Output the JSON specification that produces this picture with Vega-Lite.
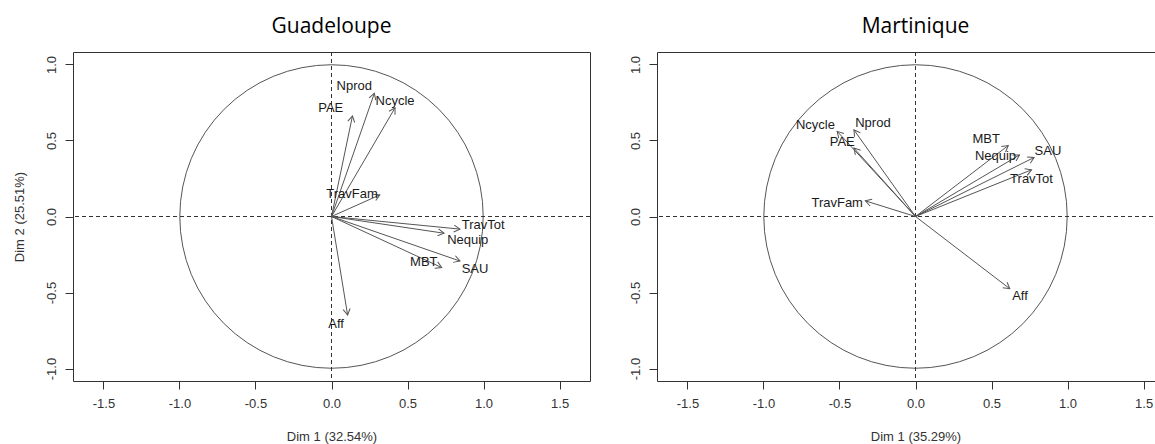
{
  "$schema": "https://vega.github.io/schema/vega-lite/v6.json",
  "background": "white",
  "padding": {"left": 12, "top": 15, "right": 0, "bottom": 0},
  "bounds": "flush",
  "spacing": 67,
  "datasets": {
    "guad": [
      {"var": "PAE", "x": 0.138, "y": 0.662, "lx": -0.005, "ly": 0.712},
      {"var": "Nprod", "x": 0.282, "y": 0.811, "lx": 0.15, "ly": 0.857},
      {"var": "Ncycle", "x": 0.418, "y": 0.715, "lx": 0.418, "ly": 0.758},
      {"var": "TravFam", "x": 0.318, "y": 0.142, "lx": 0.135, "ly": 0.148},
      {"var": "TravTot", "x": 0.845, "y": -0.083, "lx": 0.998, "ly": -0.055},
      {"var": "Nequip", "x": 0.74, "y": -0.11, "lx": 0.896, "ly": -0.153},
      {"var": "SAU", "x": 0.845, "y": -0.293, "lx": 0.944, "ly": -0.344},
      {"var": "MBT", "x": 0.725, "y": -0.336, "lx": 0.607, "ly": -0.296},
      {"var": "Aff", "x": 0.106, "y": -0.648, "lx": 0.03, "ly": -0.705}
    ],
    "mart": [
      {"var": "Ncycle", "x": -0.515, "y": 0.56, "lx": -0.658, "ly": 0.603},
      {"var": "Nprod", "x": -0.405, "y": 0.57, "lx": -0.28, "ly": 0.614},
      {"var": "PAE", "x": -0.405, "y": 0.45, "lx": -0.482, "ly": 0.487},
      {"var": "TravFam", "x": -0.33, "y": 0.103, "lx": -0.515, "ly": 0.092},
      {"var": "MBT", "x": 0.61, "y": 0.467, "lx": 0.465, "ly": 0.509},
      {"var": "Nequip", "x": 0.684, "y": 0.405, "lx": 0.526, "ly": 0.395},
      {"var": "SAU", "x": 0.78, "y": 0.388, "lx": 0.871, "ly": 0.428},
      {"var": "TravTot", "x": 0.763, "y": 0.307, "lx": 0.763, "ly": 0.247},
      {"var": "Aff", "x": 0.62, "y": -0.475, "lx": 0.687, "ly": -0.526}
    ]
  },
  "hconcat": [
    {
      "title": {"text": "Guadeloupe"},
      "width": 517,
      "height": 329,
      "layer": [
        {
          "data": {"values": [{}]},
          "mark": {"type": "point", "shape": "circle", "size": 92050, "filled": false, "stroke": "#555", "strokeWidth": 1, "opacity": 1},
          "encoding": {
            "x": {"datum": 0, "type": "quantitative", "title": "Dim 1 (32.54%)", "scale": {"domain": [-1.7, 1.7], "nice": false, "zero": false}, "axis": {"values": [-1.5, -1, -0.5, 0, 0.5, 1, 1.5]}},
            "y": {"datum": 0, "type": "quantitative", "title": "Dim 2 (25.51%)", "scale": {"domain": [-1.082, 1.082], "nice": false, "zero": false}, "axis": {"values": [-1, -0.5, 0, 0.5, 1]}}
          }
        },
        {
          "data": {"values": [{}]},
          "mark": {"type": "rule", "strokeDash": [4, 3], "color": "#333", "strokeWidth": 1},
          "encoding": {"x": {"datum": 0, "type": "quantitative", "title": "Dim 1 (32.54%)", "scale": {"domain": [-1.7, 1.7], "nice": false, "zero": false}, "axis": {"values": [-1.5, -1, -0.5, 0, 0.5, 1, 1.5]}}}
        },
        {
          "data": {"values": [{}]},
          "mark": {"type": "rule", "strokeDash": [4, 3], "color": "#333", "strokeWidth": 1},
          "encoding": {"y": {"datum": 0, "type": "quantitative", "title": "Dim 2 (25.51%)", "scale": {"domain": [-1.082, 1.082], "nice": false, "zero": false}, "axis": {"values": [-1, -0.5, 0, 0.5, 1]}}}
        },
        {
          "data": {"name": "guad"},
          "mark": {"type": "rule", "color": "#555", "strokeWidth": 1},
          "encoding": {
            "x": {"field": "x", "type": "quantitative", "title": "Dim 1 (32.54%)", "scale": {"domain": [-1.7, 1.7], "nice": false, "zero": false}, "axis": {"values": [-1.5, -1, -0.5, 0, 0.5, 1, 1.5]}},
            "y": {"field": "y", "type": "quantitative", "title": "Dim 2 (25.51%)", "scale": {"domain": [-1.082, 1.082], "nice": false, "zero": false}, "axis": {"values": [-1, -0.5, 0, 0.5, 1]}},
            "x2": {"datum": 0},
            "y2": {"datum": 0}
          }
        },
        {
          "data": {"name": "guad"},
          "transform": [{"calculate": "atan2(datum.x, datum.y) * 180 / PI", "as": "ang"}],
          "mark": {"type": "point", "shape": "M-0.5,0.866L0,0L0.5,0.866", "size": 196, "filled": false, "stroke": "#555", "strokeWidth": 1, "opacity": 1},
          "encoding": {
            "x": {"field": "x", "type": "quantitative", "title": "Dim 1 (32.54%)", "scale": {"domain": [-1.7, 1.7], "nice": false, "zero": false}, "axis": {"values": [-1.5, -1, -0.5, 0, 0.5, 1, 1.5]}},
            "y": {"field": "y", "type": "quantitative", "title": "Dim 2 (25.51%)", "scale": {"domain": [-1.082, 1.082], "nice": false, "zero": false}, "axis": {"values": [-1, -0.5, 0, 0.5, 1]}},
            "angle": {"field": "ang", "type": "quantitative", "scale": null}
          }
        },
        {
          "data": {"name": "guad"},
          "mark": {"type": "text", "font": "Liberation Sans", "fontSize": 13, "color": "#1a1a1a", "baseline": "middle", "align": "center"},
          "encoding": {
            "x": {"field": "lx", "type": "quantitative", "title": "Dim 1 (32.54%)", "scale": {"domain": [-1.7, 1.7], "nice": false, "zero": false}, "axis": {"values": [-1.5, -1, -0.5, 0, 0.5, 1, 1.5]}},
            "y": {"field": "ly", "type": "quantitative", "title": "Dim 2 (25.51%)", "scale": {"domain": [-1.082, 1.082], "nice": false, "zero": false}, "axis": {"values": [-1, -0.5, 0, 0.5, 1]}},
            "text": {"field": "var", "type": "nominal"}
          }
        }
      ]
    },
    {
      "title": {"text": "Martinique"},
      "width": 517,
      "height": 329,
      "layer": [
        {
          "data": {"values": [{}]},
          "mark": {"type": "point", "shape": "circle", "size": 92050, "filled": false, "stroke": "#555", "strokeWidth": 1, "opacity": 1},
          "encoding": {
            "x": {"datum": 0, "type": "quantitative", "title": "Dim 1 (35.29%)", "scale": {"domain": [-1.7, 1.7], "nice": false, "zero": false}, "axis": {"values": [-1.5, -1, -0.5, 0, 0.5, 1, 1.5]}},
            "y": {"datum": 0, "type": "quantitative", "title": null, "scale": {"domain": [-1.082, 1.082], "nice": false, "zero": false}, "axis": {"values": [-1, -0.5, 0, 0.5, 1]}}
          }
        },
        {
          "data": {"values": [{}]},
          "mark": {"type": "rule", "strokeDash": [4, 3], "color": "#333", "strokeWidth": 1},
          "encoding": {"x": {"datum": 0, "type": "quantitative", "title": "Dim 1 (35.29%)", "scale": {"domain": [-1.7, 1.7], "nice": false, "zero": false}, "axis": {"values": [-1.5, -1, -0.5, 0, 0.5, 1, 1.5]}}}
        },
        {
          "data": {"values": [{}]},
          "mark": {"type": "rule", "strokeDash": [4, 3], "color": "#333", "strokeWidth": 1},
          "encoding": {"y": {"datum": 0, "type": "quantitative", "title": null, "scale": {"domain": [-1.082, 1.082], "nice": false, "zero": false}, "axis": {"values": [-1, -0.5, 0, 0.5, 1]}}}
        },
        {
          "data": {"name": "mart"},
          "mark": {"type": "rule", "color": "#555", "strokeWidth": 1},
          "encoding": {
            "x": {"field": "x", "type": "quantitative", "title": "Dim 1 (35.29%)", "scale": {"domain": [-1.7, 1.7], "nice": false, "zero": false}, "axis": {"values": [-1.5, -1, -0.5, 0, 0.5, 1, 1.5]}},
            "y": {"field": "y", "type": "quantitative", "title": null, "scale": {"domain": [-1.082, 1.082], "nice": false, "zero": false}, "axis": {"values": [-1, -0.5, 0, 0.5, 1]}},
            "x2": {"datum": 0},
            "y2": {"datum": 0}
          }
        },
        {
          "data": {"name": "mart"},
          "transform": [{"calculate": "atan2(datum.x, datum.y) * 180 / PI", "as": "ang"}],
          "mark": {"type": "point", "shape": "M-0.5,0.866L0,0L0.5,0.866", "size": 196, "filled": false, "stroke": "#555", "strokeWidth": 1, "opacity": 1},
          "encoding": {
            "x": {"field": "x", "type": "quantitative", "title": "Dim 1 (35.29%)", "scale": {"domain": [-1.7, 1.7], "nice": false, "zero": false}, "axis": {"values": [-1.5, -1, -0.5, 0, 0.5, 1, 1.5]}},
            "y": {"field": "y", "type": "quantitative", "title": null, "scale": {"domain": [-1.082, 1.082], "nice": false, "zero": false}, "axis": {"values": [-1, -0.5, 0, 0.5, 1]}},
            "angle": {"field": "ang", "type": "quantitative", "scale": null}
          }
        },
        {
          "data": {"name": "mart"},
          "mark": {"type": "text", "font": "Liberation Sans", "fontSize": 13, "color": "#1a1a1a", "baseline": "middle", "align": "center"},
          "encoding": {
            "x": {"field": "lx", "type": "quantitative", "title": "Dim 1 (35.29%)", "scale": {"domain": [-1.7, 1.7], "nice": false, "zero": false}, "axis": {"values": [-1.5, -1, -0.5, 0, 0.5, 1, 1.5]}},
            "y": {"field": "ly", "type": "quantitative", "title": null, "scale": {"domain": [-1.082, 1.082], "nice": false, "zero": false}, "axis": {"values": [-1, -0.5, 0, 0.5, 1]}},
            "text": {"field": "var", "type": "nominal"}
          }
        }
      ]
    }
  ],
  "config": {
    "view": {"stroke": "#333", "strokeWidth": 1},
    "axis": {"grid": false, "domain": false, "tickColor": "#333", "tickSize": 8, "labelFont": "Liberation Sans", "labelFontSize": 13, "labelColor": "#333", "titleFont": "Liberation Sans", "titleFontSize": 13, "titleFontWeight": "normal", "titleColor": "#333", "format": ".1f", "labelExpr": "replace(datum.label, '\u2212', '-')"},
    "axisX": {"labelPadding": 8, "titlePadding": 20},
    "axisY": {"labelAngle": -90, "labelAlign": "center", "labelBaseline": "bottom", "labelPadding": 7, "titlePadding": 19},
    "title": {"font": "Open Sans", "fontSize": 21, "fontWeight": "normal", "color": "#000", "baseline": "alphabetic", "offset": 15}
  }
}
